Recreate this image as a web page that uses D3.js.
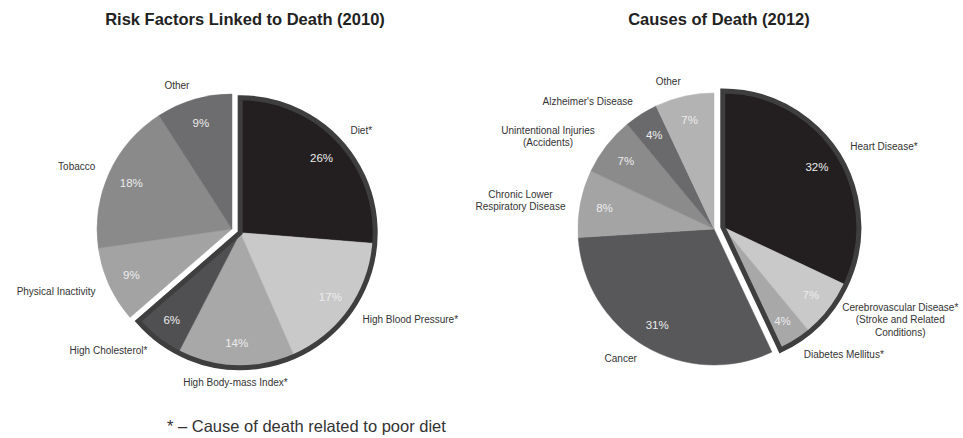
<!DOCTYPE html>
<html>
<head>
<meta charset="utf-8">
<script src="https://cdn.jsdelivr.net/npm/d3@7"></script>
<style>
  body { margin: 0; background: #fff; }
  text { font-family: "Liberation Sans", Arial, Helvetica, sans-serif; }
</style>
</head>
<body>
<div id="chart"></div>
<script>
// Left pie: risk factors (2010)
const riskLabels = ['Diet*', 'High Blood Pressure*', 'High Body-mass Index*', 'High Cholesterol*', 'Physical Inactivity', 'Tobacco', 'Other'];
const riskValues = [26, 17, 14, 6, 9, 18, 9];
const riskDiet = [true, true, true, true, false, false, false];
const riskColors = ['#231f20', '#c9c9ca', '#a8a8a9', '#505052', '#a3a3a4', '#8a8a8b', '#6d6d6f'];

// Right pie: causes of death (2012)
const causeLabels = ['Heart Disease*', 'Cerebrovascular Disease*\n(Stroke and Related\nConditions)', 'Diabetes Mellitus*', 'Cancer',
  'Chronic Lower\nRespiratory Disease', 'Unintentional Injuries\n(Accidents)', "Alzheimer's Disease", 'Other'];
const causeValues = [32, 7, 4, 31, 8, 7, 4, 7];
const causeDiet = [true, true, true, false, false, false, false, false];
const causeColors = ['#231f20', '#c9c9ca', '#a8a8a9', '#58585a', '#a4a4a5', '#8b8b8c', '#6a6a6c', '#b3b3b4'];

const footnote = '* \u2013 Cause of death related to poor diet';

const W = 963, H = 438;
const svg = d3.select('#chart').append('svg')
  .attr('width', W).attr('height', H)
  .attr('viewBox', `0 0 ${W} ${H}`);

function drawPie({ title, titleX, cx, cy, r, labels, values, diet, colors }) {
  const data = labels.map((label, i) => ({ label, value: values[i], diet: diet[i] }));
  const color = d3.scaleOrdinal().domain(labels).range(colors);
  const arcs = d3.pie().sort(null).value(d => d.value)(data);
  const arc = d3.arc().innerRadius(0).outerRadius(r);

  // the diet related slices are pulled out as one wedge
  const grp = arcs.filter(a => a.data.diet);
  const gStart = d3.min(grp, a => a.startAngle), gEnd = d3.max(grp, a => a.endAngle);
  const gMid = (gStart + gEnd) / 2, off = 9;
  const ox = off * Math.sin(gMid), oy = -off * Math.cos(gMid);

  const g = svg.append('g').attr('transform', `translate(${cx},${cy})`);

  const slice = g.selectAll('g.slice')
    .data(arcs)
    .join('g')
    .attr('class', 'slice')
    .attr('transform', d => d.data.diet ? `translate(${ox},${oy})` : null);

  slice.append('path')
    .attr('d', arc)
    .attr('fill', d => color(d.data.label))
    .attr('stroke', d => color(d.data.label))
    .attr('stroke-width', 0.5);

  // dark outline round the pulled-out wedge
  g.append('path')
    .attr('transform', `translate(${ox},${oy})`)
    .attr('d', arc({ startAngle: gStart, endAngle: gEnd }))
    .attr('fill', 'none')
    .attr('stroke', '#3e3e3f')
    .attr('stroke-width', 5)
    .attr('stroke-linejoin', 'miter');

  // percentages
  const pArc = d3.arc().innerRadius(r * 0.82).outerRadius(r * 0.82);
  slice.append('text')
    .attr('transform', d => `translate(${pArc.centroid(d)})`)
    .attr('text-anchor', 'middle')
    .attr('dy', '0.35em')
    .attr('font-size', '11.5px')
    .attr('fill', '#ececec')
    .text(d => d.data.value + '%');

  // outer labels
  const lr = r + 15;
  slice.each(function (d) {
    const a = (d.startAngle + d.endAngle) / 2;
    const deg = a * 180 / Math.PI;
    const x = lr * Math.sin(a), y = -lr * Math.cos(a);
    const lines = d.data.label.split('\n');
    const lh = 12.5;
    const t = d3.select(this).append('text')
      .attr('text-anchor', 'middle')
      .attr('font-size', '10px')
      .attr('fill', '#333');
    lines.forEach((ln, i) => {
      t.append('tspan')
        .attr('x', 0)
        .attr('y', (i - (lines.length - 1) / 2) * lh)
        .attr('dy', '0.35em')
        .text(ln);
    });
    const w = t.node().getBBox().width;
    let tx = x;
    if (deg > 10 && deg < 170) tx = x + w / 2;
    else if (deg > 190 && deg < 350) tx = x - w / 2;
    t.attr('transform', `translate(${tx},${y})`);
  });

  svg.append('text')
    .attr('x', titleX).attr('y', 25)
    .attr('text-anchor', 'middle')
    .attr('font-size', '16.5px')
    .attr('font-weight', 'bold')
    .attr('fill', '#222')
    .text(title);
}

drawPie({
  title: 'Risk Factors Linked to Death (2010)', titleX: 245,
  cx: 232, cy: 229, r: 135,
  labels: riskLabels, values: riskValues, diet: riskDiet, colors: riskColors
});

drawPie({
  title: 'Causes of Death (2012)', titleX: 719,
  cx: 714, cy: 229, r: 136,
  labels: causeLabels, values: causeValues, diet: causeDiet, colors: causeColors
});

svg.append('text')
  .attr('x', 167).attr('y', 432)
  .attr('font-size', '16.5px')
  .attr('fill', '#333')
  .text(footnote);
</script>
</body>
</html>
